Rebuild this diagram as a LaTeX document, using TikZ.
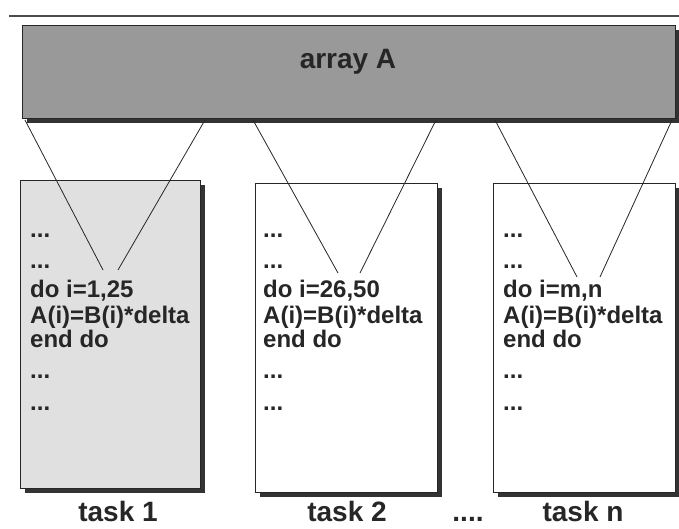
\documentclass[tikz,border=0pt]{standalone}
\usepackage{fontspec}
\setmainfont{Liberation Sans}
\usetikzlibrary{shadows}

\tikzset{
  boxshadow/.style={drop shadow={shadow xshift=4pt, shadow yshift=-4pt, fill=black!80, opacity=1}},
  arraybox/.style={draw=black!85, line width=1.4pt, fill=black!40, anchor=north west, inner sep=0pt, boxshadow},
  taskbox/.style={draw=black!85, line width=1.4pt, fill=white, anchor=north west, inner sep=0pt,
    minimum width=182pt, minimum height=309pt, boxshadow},
  codeline/.style={anchor=base west, inner sep=0pt, font=\fontsize{24}{26}\selectfont\bfseries, text=black!85},
  tasklabel/.style={anchor=base, inner sep=0pt, font=\fontsize{28}{30}\selectfont\bfseries, text=black!85},
  splitline/.style={draw=black!85, line width=0.8pt}
}

\begin{document}
\begin{tikzpicture}[x=1pt, y=-1pt]
  \useasboundingbox (0,0) rectangle (679,529);
  \draw[black!70, line width=1.5pt] (9,16) -- (679,16);

  % the shared array
  \node[arraybox, minimum width=653pt, minimum height=93pt] (arr) at (22,25) {};
  \node[font=\fontsize{28}{30}\selectfont\bfseries, text=black!85] (arrlabel) at (348,62) {array A};

  % the tasks
  \node[taskbox, fill=black!12, minimum width=180pt, minimum height=308pt] (t1) at (20,180) {};
  \node[taskbox] (t2) at (255,183) {};
  \node[taskbox] (tn) at (493,183) {};

  \foreach \bx/\rng [count=\b] in {30/{1,25}, 263/{26,50}, 503/{m,n}} {
    \foreach \y/\t [count=\k] in {237/{...}, 268/{...}, 297/{do i=\rng}, 323/{A(i)=B(i)*delta},
        347/{end do}, 378/{...}, 410/{...}}
      \node[codeline] (c\b-\k) at (\bx,\y) {\t};
  }

  % slices of the array
  \coordinate (s1l) at (25,120);  \coordinate (e1l) at (103,270);
  \coordinate (s1r) at (205,120); \coordinate (e1r) at (118,270);
  \coordinate (s2l) at (253,120); \coordinate (e2l) at (338,273);
  \coordinate (s2r) at (436,120); \coordinate (e2r) at (360,273);
  \coordinate (snl) at (495,120); \coordinate (enl) at (577,277);
  \coordinate (snr) at (672,120); \coordinate (enr) at (600,277);
  \draw[splitline] (s1l) -- (e1l);
  \draw[splitline] (s1r) -- (e1r);
  \draw[splitline] (s2l) -- (e2l);
  \draw[splitline] (s2r) -- (e2r);
  \draw[splitline] (snl) -- (enl);
  \draw[splitline] (snr) -- (enr);

  \node[tasklabel] (l1) at (118,521) {task 1};
  \node[tasklabel] (l2) at (347,521) {task 2};
  \node[tasklabel] (ldots) at (468,521) {....};
  \node[tasklabel] (ln) at (583,521) {task n};
\end{tikzpicture}
\end{document}
